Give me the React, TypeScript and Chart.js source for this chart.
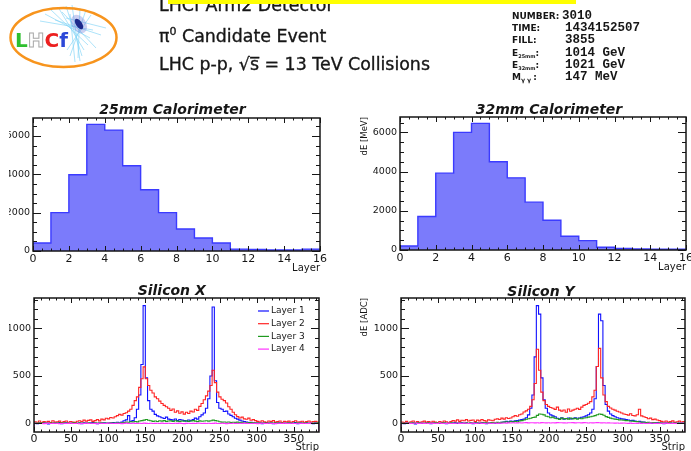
import React, { useEffect, useRef } from "react";
import { Chart, registerables } from "chart.js";

Chart.register(...registerables);

// ---------------- data ----------------
const LAYERS = [0, 1, 2, 3, 4, 5, 6, 7, 8, 9, 10, 11, 12, 13, 14, 15];
const CAL25_DE = [417, 2000, 3980, 6610, 6310, 4450, 3200, 2000, 1150, 680, 420, 100, 85, 50, 50, 100];
const CAL32_DE = [205, 1710, 3920, 6000, 6460, 4500, 3680, 2440, 1520, 700, 480, 140, 85, 50, 35, 35];
const CAL_X_TICKS = [0, 2, 4, 6, 8, 10, 12, 14, 16];
const CAL_Y_TICKS = [0, 2000, 4000, 6000];

const STRIP_BIN = 3; // strips per stored value
const SIL_X_TICKS = [0, 50, 100, 150, 200, 250, 300, 350];
const SIL_Y_TICKS = [0, 500, 1000];
const SIL_Y_MIN = -90;
const SIL_Y_MAX = 1320;
const STRIP_MAX = 384;
const LAYER_NAMES = ["Layer 1", "Layer 2", "Layer 3", "Layer 4"];

// Silicon X
const SILX_L1 = [4, -2, 6, 1, 8, 3, -4, 5, 2, 7, 0, 9, -3, 4, 6, 1, -1, 5, 8, 2, 3, -2, 7, 4, 0, 6, 9, 2, -3, 5, 3, 8, 1, 4,
  6, 10, 3, 12, 8, 15, 28, 38, 82, 22, 30, 60, 150, 300, 620, 1240, 480, 240, 150, 130, 95, 80, 70, 60, 52, 66,
  45, 40, 35, 47, 30, 40, 36, 30, 24, 36, 30, 42, 56, 45, 70, 90, 110, 160, 260, 500, 1225, 450, 220, 160, 150,
  125, 130, 100, 85, 70, 55, 45, 35, 25, 20, 15, 10, 12, 8, 5,
  3, 7, -2, 5, 9, 1, 4, -3, 6, 2, 8, 0, 5, -1, 7, 3, 4, 9, -2, 6, 1, 5, 8, 0, 3, -3, 6, 2];
const SILX_L2 = [18, 12, 25, 8, 20, 15, 22, 10, 28, 14, 17, 24, 9, 19, 26, 13, 21, 16, 11, 23,
  28, 20, 35, 24, 32, 38, 22, 30, 40, 27, 45, 38, 55, 48, 62, 58, 70, 82, 95, 88, 105, 112,
  130, 150, 190, 240, 280, 380, 470, 595, 470, 400, 350, 320, 280, 260, 235, 210, 190, 175,
  160, 138, 152, 118, 132, 108, 122, 98, 118, 104, 130, 120, 150, 138, 180, 210, 250, 290, 340, 400, 560, 430, 330,
  280, 255, 240, 215, 175, 150, 118, 92, 72, 58, 66, 48, 44, 56, 34, 40, 30,
  22, 15, 28, 18, 12, 25, 20, 30, 14, 19, 26, 10, 22, 17, 24, 12, 20, 28, 15, 18, 23, 11, 20, 26, 14, 19, 22, 16];
const SILX_L3 = [4, 2, 6, 3, 5, 1, 7, 4, 2, 5, 6, 3, 4, 8, 2, 5, 3, 6, 4, 2, 7, 5, 3, 4, 6, 2, 5, 8, 4, 3, 6, 2, 5, 4, 7, 3, 5, 6, 4, 8,
  10, 14, 12, 18, 15, 20, 17, 25, 30, 35, 42, 34, 28,
  22, 26, 20, 28, 24, 30, 22, 25, 27, 21, 29, 24, 20, 26, 23, 28, 22, 25, 30, 24, 21, 27, 23, 26, 29, 24, 28,
  35, 30, 25, 18, 14, 16, 12, 15, 10, 13, 11, 14, 9, 12, 8, 10, 7, 9, 6, 8,
  5, 3, 6, 4, 2, 5, 7, 3, 4, 6, 2, 5, 4, 3, 6, 5, 2, 4, 7, 3, 5, 4, 6, 2, 5, 3, 4, 6];
const SILX_L4 = [1, -1, 2, 0, -2, 1, 3, 0, -1, 2, 1, -2, 0, 2, -1, 1, 3, -1, 0, 2, -2, 1, 0, 3, -1, 2, 0, 1, -2, 2,
  1, 0, -1, 3, 2, -1, 0, 1, 2, -2, 1, 3, 0, -1, 2, 1, 0, 2, -1, 3, 1, 0, 2, -1, 1, 2, 0, 3, -1, 1,
  2, 0, -1, 2, 1, 3, 0, -2, 1, 2, 0, 1, -1, 3, 2, 0, 1, -1, 2, 0, 1, 3, -1, 0, 2, 1, -2, 1, 0, 2,
  1, -1, 2, 0, 3, 1, -1, 0, 2, 1, -2, 1, 3, 0, -1, 2, 1, 0, -2, 2, 1, 0, 3, -1, 1, 2, 0, -1, 2, 1,
  0, 2, -1, 1, 3, 0, 1, -1];

// Silicon Y
const SILY_L1 = [5, -2, 8, 3, 0, 6, -4, 4, 9, 1, -1, 7, 3, -3, 5, 8, 2, 0, 6, 4, -2, 7, 1, 5, 9, -1, 3, 6, 2, 8,
  0, 4, -3, 7, 5, 1, 9, 3, -2, 6, 4, 8, 2, 10, 6, 12,
  15, 22, 18, 26, 20, 28, 30, 35, 40, 46, 60, 90, 160, 300, 700, 1240, 1150, 480, 250, 160,
  110, 90, 80, 70, 55, 50, 60, 45, 50, 56, 48, 52, 60, 55, 58, 65, 70, 80, 92, 110,
  150, 260, 600, 1150, 1080, 400, 200, 130, 100, 82, 70, 60, 55, 48,
  45, 40, 36, 30, 32, 25, 20, 22, 15, 14, 8, 3, 6, 0, 5, 9, 2, 4, -2, 7, 3, 5, 1, 6, -1, 4, 8, 2];
const SILY_L2 = [15, 10, 22, 8, 18, 25, 12, 20, 9, 17, 24, 14, 19, 11, 23, 16, 8, 21, 13, 26, 18, 10, 20,
  30, 24, 38, 22, 34, 28, 40, 25, 32, 36, 20, 35, 27, 42, 30, 24, 38, 33, 28, 44,
  48, 42, 56, 45, 60, 52, 58, 70, 82, 75, 92, 100, 120, 132, 150,
  180, 250, 420, 780, 560, 330, 240, 200, 180, 168, 160, 148, 172, 140,
  130, 142, 118, 152, 128, 140, 150, 160, 148, 172, 190, 200, 212, 230,
  280, 350, 600, 790, 480, 300, 230, 180, 162, 150, 140, 128, 120, 110,
  100, 94, 88, 102, 84, 80, 92, 150, 80, 70, 62, 50, 56, 40, 46, 36, 30,
  22, 16, 25, 14, 20, 27, 12, 18, 24, 15, 20];
const SILY_L3 = [4, 2, 6, 3, 5, 7, 2, 4, 6, 3, 5, 2, 7, 4, 3, 6, 5, 2, 4, 8, 3, 5, 6, 2, 4, 7, 3, 5, 4, 6,
  2, 8, 5, 3, 6, 4, 7, 5, 9, 6, 8, 10, 7, 11, 9, 12,
  14, 18, 12, 20, 16, 22, 18, 25, 30, 36, 44, 50, 55, 62, 66, 85, 100, 96, 90, 76, 70, 60, 66, 55,
  50, 42, 56, 48, 52, 45, 58, 47, 53, 44, 55, 50, 57, 60, 66, 70, 76, 82, 92, 100, 95, 86,
  72, 64, 56, 50, 45, 42, 38, 36, 33, 30, 28, 25, 24, 20, 19,
  16, 14, 12, 10, 11, 8, 9, 6, 5, 6, 3, 5, 2, 4, 6, 1, 3, 5, 2, 4, 3];
const SILY_L4 = [2, 0, 3, 1, -1, 2, 4, 0, 1, 3, -1, 2, 0, 3, 1, 2, -1, 4, 0, 2,
  1, 3, 0, -1, 2, 4, 1, 0, 3, 2, -1, 1, 3, 0, 2, 4, 1, -1, 2, 3,
  0, 2, 4, 1, 3, 2, 5, 3, 6, 4, 7, 5, 6, 8, 5, 7, 9, 6, 8, 7,
  6, 8, 5, 9, 7, 6, 8, 5, 7, 6, 9, 7, 8, 6, 5, 8, 7, 9, 6, 7,
  8, 6, 9, 7, 5, 8, 6, 7, 9, 8, 6, 7, 5, 6, 4, 5, 3, 4, 2, 3,
  4, 2, 1, 3, 0, 2, 1, 3, -1, 2, 0, 1, 3, 2, 0, 1, -1, 2, 1, 3,
  0, 2, 1, -1, 2, 0, 3, 1];

// ---------------- styling ----------------
const FONT = "DejaVu Sans";
const INK = "#161616";
const SIL_COLORS = ["#1010ff", "#ff2424", "#1f9a1f", "#ff33ff"];
const PAD_T = 10;
const PAD_R = 12;

type Pt = { x: number; y: number };

function calHist(values: number[]): Pt[] {
  const pts: Pt[] = [{ x: LAYERS[0], y: 0 }];
  values.forEach((v, i) => pts.push({ x: LAYERS[i], y: v }));
  const end = LAYERS[LAYERS.length - 1] + 1;
  pts.push({ x: end, y: values[values.length - 1] });
  pts.push({ x: end, y: 0 });
  return pts;
}

function stripHist(values: number[]): Pt[] {
  const pts: Pt[] = [{ x: 0, y: SIL_Y_MIN }];
  values.forEach((v, i) => pts.push({ x: i * STRIP_BIN, y: v }));
  const end = values.length * STRIP_BIN;
  pts.push({ x: end, y: values[values.length - 1] });
  pts.push({ x: end, y: SIL_Y_MIN });
  return pts;
}

type Spec = {
  left: number; top: number; frameW: number; frameH: number; yw: number; xh: number;
  xMin: number; xMax: number; yMin: number; yMax: number;
  xTicks: number[]; yTicks: number[]; xMinor: number; yMinor: number;
  xTitle: string; yTitle: string | null; datasets: any[]; legend: boolean;
};

function framePlugin(spec: Spec) {
  return {
    id: "rootFrame",
    afterDatasetsDraw(chart: any) {
      const { ctx, chartArea: a, scales } = chart;
      const xs = scales.x, ys = scales.y;
      ctx.save();
      ctx.strokeStyle = INK;
      ctx.lineWidth = 1;
      const seg = (x1: number, y1: number, x2: number, y2: number) => {
        ctx.beginPath(); ctx.moveTo(x1, y1); ctx.lineTo(x2, y2); ctx.stroke();
      };
      const isMajor = (v: number, list: number[]) => list.some((t) => Math.abs(t - v) < 1e-6);
      for (let v = Math.ceil(spec.yMin / spec.yMinor) * spec.yMinor; v <= spec.yMax; v += spec.yMinor) {
        const py = Math.round(ys.getPixelForValue(v)) + 0.5;
        const len = isMajor(v, spec.yTicks) ? 8 : 4;
        seg(a.left, py, a.left + len, py);
        seg(a.right, py, a.right - len, py);
      }
      for (let v = Math.ceil(spec.xMin / spec.xMinor) * spec.xMinor; v <= spec.xMax; v += spec.xMinor) {
        const px = Math.round(xs.getPixelForValue(v)) + 0.5;
        const len = isMajor(v, spec.xTicks) ? 5 : 2.5;
        seg(px, a.bottom, px, a.bottom - len);
        seg(px, a.top, px, a.top + len);
      }
      ctx.lineWidth = 1.5;
      ctx.strokeRect(a.left, a.top, a.right - a.left, a.bottom - a.top);
      if (spec.legend) {
        ctx.font = `9px '${FONT}'`;
        ctx.textBaseline = "middle";
        ctx.textAlign = "left";
        chart.data.datasets.forEach((ds: any, i: number) => {
          const y = a.top + 13 + i * 12.7;
          ctx.strokeStyle = ds.borderColor;
          ctx.lineWidth = 1.2;
          seg(a.left + 224, y, a.left + 235, y);
          ctx.fillStyle = INK;
          ctx.fillText(ds.label, a.left + 237, y);
        });
      }
      ctx.restore();
    },
  };
}

function buildConfig(spec: Spec): any {
  return {
    type: "line",
    data: { datasets: spec.datasets },
    plugins: [framePlugin(spec)],
    options: {
      responsive: false,
      animation: false,
      events: [],
      devicePixelRatio: 1,
      layout: { padding: { left: 0, right: PAD_R, top: PAD_T, bottom: 0 } },
      elements: { point: { radius: 0 }, line: { tension: 0 } },
      plugins: { legend: { display: false }, tooltip: { enabled: false }, title: { display: false } },
      scales: {
        x: {
          type: "linear",
          min: spec.xMin,
          max: spec.xMax,
          grid: { display: false, drawTicks: false },
          border: { display: false },
          afterFit: (s: any) => { s.height = spec.xh; },
          afterBuildTicks: (s: any) => { s.ticks = spec.xTicks.map((v) => ({ value: v })); },
          ticks: {
            autoSkip: false, maxRotation: 0, padding: spec.xh > 22 ? 2 : 1, color: INK,
            font: { family: FONT, size: 11 }, callback: (v: any) => String(v),
          },
          title: { display: true, text: spec.xTitle, align: "end", color: INK, font: { family: FONT, size: 10 }, padding: 0 },
        },
        y: {
          type: "linear",
          min: spec.yMin,
          max: spec.yMax,
          grid: { display: false, drawTicks: false },
          border: { display: false },
          afterFit: (s: any) => { s.width = spec.yw; },
          afterBuildTicks: (s: any) => { s.ticks = spec.yTicks.map((v) => ({ value: v })); },
          ticks: { padding: 3, color: INK, font: { family: FONT, size: 9.5 }, callback: (v: any) => String(v) },
          title: {
            display: !!spec.yTitle, text: spec.yTitle || "", align: "end", color: INK,
            font: { family: FONT, size: 8.5 }, padding: 0,
          },
        },
      },
    },
  };
}

function Panel({ spec }: { spec: Spec }) {
  const ref = useRef<HTMLCanvasElement>(null);
  const w = spec.yw + spec.frameW + PAD_R;
  const h = PAD_T + spec.frameH + spec.xh;
  useEffect(() => {
    const chart = new Chart(ref.current as HTMLCanvasElement, buildConfig(spec));
    return () => chart.destroy();
  }, []);
  return (
    <canvas
      ref={ref}
      width={w}
      height={h}
      style={{ position: "absolute", left: spec.left, top: spec.top, width: w, height: h }}
    />
  );
}

function calDataset(values: number[]) {
  return [{
    label: "dE",
    data: calHist(values),
    stepped: true,
    borderColor: "#3b3bff",
    borderWidth: 1.4,
    backgroundColor: "#7b7bfb",
    fill: "origin",
    pointRadius: 0,
  }];
}

function silDatasets(layers: number[][]) {
  return layers.map((vals, i) => ({
    label: LAYER_NAMES[i],
    data: stripHist(vals),
    stepped: true,
    borderColor: SIL_COLORS[i],
    borderWidth: 1.1,
    fill: false,
    pointRadius: 0,
    order: layers.length - 1 - i,
  }));
}

const calCommon = {
  xMin: 0, xMax: LAYERS.length, yMin: 0,
  xTicks: CAL_X_TICKS, yTicks: CAL_Y_TICKS, xMinor: 0.5, yMinor: 500, xTitle: "Layer", legend: false,
};
const silCommon = {
  xMin: 0, xMax: STRIP_MAX, yMin: SIL_Y_MIN, yMax: SIL_Y_MAX,
  xTicks: SIL_X_TICKS, yTicks: SIL_Y_TICKS, xMinor: 10, yMinor: 100, xTitle: "Strip",
};

const SPECS: Spec[] = [
  { ...calCommon, left: 9, top: 108, frameW: 287, frameH: 133, yw: 24, xh: 23,
    yMax: Math.max(...CAL25_DE) * 1.05, yTitle: null, datasets: calDataset(CAL25_DE) },
  { ...calCommon, left: 360, top: 107, frameW: 286, frameH: 133, yw: 40, xh: 23,
    yMax: Math.max(...CAL32_DE) * 1.05, yTitle: "dE [MeV]", datasets: calDataset(CAL32_DE) },
  { ...silCommon, left: 9, top: 288, frameW: 285, frameH: 134, yw: 25, xh: 21,
    yTitle: null, legend: true, datasets: silDatasets([SILX_L1, SILX_L2, SILX_L3, SILX_L4]) },
  { ...silCommon, left: 360, top: 288, frameW: 284, frameH: 134, yw: 41, xh: 21,
    yTitle: "dE [ADC]", legend: false, datasets: silDatasets([SILY_L1, SILY_L2, SILY_L3, SILY_L4]) },
];

const SHOWER = [
  [50, 9, 88, 45], [58, 7, 84, 50], [66, 6, 82, 56], [72, 5, 80, 61], [45, 14, 90, 38], [62, 12, 96, 48],
  [55, 20, 101, 35], [70, 14, 75, 62], [80, 8, 78, 58], [86, 10, 70, 56], [91, 15, 67, 50], [40, 21, 93, 30], [66, 18, 106, 28],
];

function Overlay() {
  const t = { fontFamily: FONT, fill: INK, stroke: INK, strokeWidth: 0.35 } as any;
  const mono = { fontFamily: "'Liberation Mono'", fontWeight: "bold", fontSize: 12.5, fill: INK } as any;
  const lab = { fontFamily: FONT, fontWeight: "bold", fontSize: 9, fill: INK } as any;
  const title = { fontFamily: FONT, fill: INK, fontWeight: "bold", fontStyle: "italic", fontSize: 14, textAnchor: "middle" } as any;
  return (
    <svg width={691} height={451} style={{ position: "absolute", left: 0, top: 0 }}>
      {/* logo */}
      {SHOWER.map((s, i) => (
        <line key={i} x1={s[0]} y1={s[1]} x2={s[2]} y2={s[3]} stroke="#86d6f6" strokeWidth={0.8} opacity={0.85} />
      ))}
      <ellipse cx={79} cy={24} rx={7} ry={10} fill="#6a78d8" opacity={0.35} transform="rotate(-35 79 24)" />
      <ellipse cx={79} cy={24} rx={3} ry={6} fill="#1c2a8c" transform="rotate(-35 79 24)" />
      <ellipse cx={63.5} cy={37.5} rx={53} ry={29.5} fill="none" stroke="#f7941d" strokeWidth={2.5} />
      <text x={15} y={47} fontFamily={FONT} fontWeight="bold" fontSize={20}>
        <tspan fill="#2fc02f">L</tspan>
        <tspan fill="#ffffff" stroke="#a8a8a8" strokeWidth={1}>H</tspan>
        <tspan fill="#ec2020">C</tspan>
        <tspan fill="#2b48d8">f</tspan>
      </text>

      {/* header */}
      <text x={159} y={11} {...t} fontSize={17.4}>LHCf Arm2 Detector</text>
      <rect x={168} y={0} width={408} height={4} fill="#ffff00" />
      <text x={159} y={41.7} {...t} fontSize={17.4}>
        π<tspan dy={-7} fontSize={11}>0</tspan><tspan dy={7}> Candidate Event</tspan>
      </text>
      <text x={159} y={70} {...t} fontSize={17.4}>{"LHC p-p,  √s\u0305 = 13 TeV Collisions"}</text>

      {/* event info */}
      <text x={512} y={19} {...lab}>NUMBER:</text>
      <text x={512} y={31} {...lab}>TIME:</text>
      <text x={512} y={43.3} {...lab}>FILL:</text>
      <text x={512} y={55.5} {...lab}>E<tspan fontSize={5} dy={2}>25mm</tspan><tspan dy={-2}>:</tspan></text>
      <text x={512} y={67.7} {...lab}>E<tspan fontSize={5} dy={2}>32mm</tspan><tspan dy={-2}>:</tspan></text>
      <text x={512} y={80} {...lab}>M<tspan fontSize={6} dy={2} letterSpacing={2}>γγ</tspan><tspan dy={-2}>:</tspan></text>
      <text x={562} y={19} {...mono}>3010</text>
      <text x={565} y={31} {...mono}>1434152507</text>
      <text x={565} y={43.3} {...mono}>3855</text>
      <text x={565} y={55.5} {...mono}>1014 GeV</text>
      <text x={565} y={67.7} {...mono}>1021 GeV</text>
      <text x={565} y={80} {...mono}>147 MeV</text>

      {/* pad titles */}
      <text x={172.5} y={114} {...title}>25mm Calorimeter</text>
      <text x={549} y={114} {...title}>32mm Calorimeter</text>
      <text x={171.7} y={295} {...title}>Silicon X</text>
      <text x={541} y={295.5} {...title}>Silicon Y</text>
    </svg>
  );
}

export default function App() {
  return (
    <div
      style={{
        position: "fixed", left: 0, top: 0, width: 691, height: 451,
        overflow: "hidden", background: "#ffffff", fontFamily: FONT,
      }}
    >
      {SPECS.map((s, i) => (
        <Panel key={i} spec={s} />
      ))}
      <Overlay />
    </div>
  );
}
